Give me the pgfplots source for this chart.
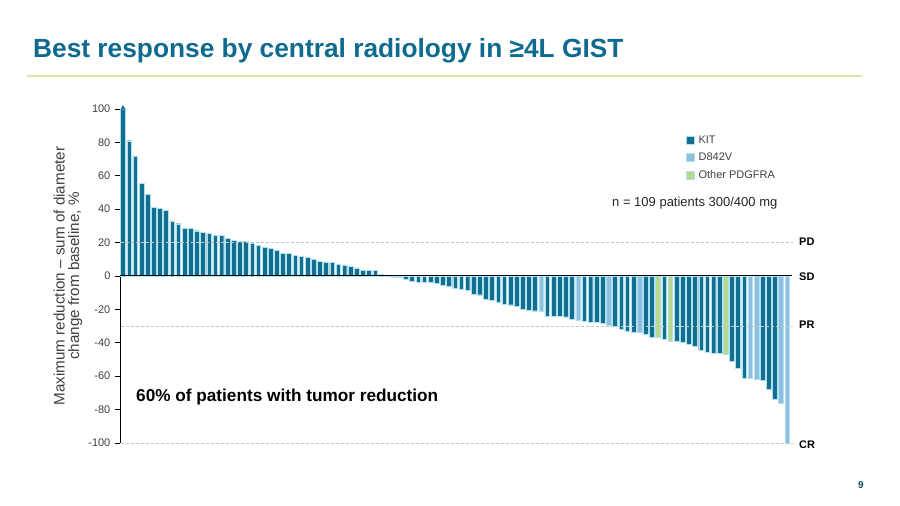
\documentclass[border=0pt]{standalone}
\usepackage{pgfplots}
\pgfplotsset{compat=1.18}
\usepackage{pgfplotstable}
\usepackage{fontspec}
\setmainfont{Liberation Sans}
\definecolor{kit}{RGB}{19,111,143}
\definecolor{dv}{RGB}{143,190,222}
\definecolor{pdg}{RGB}{184,217,138}
\definecolor{edge}{RGB}{175,225,240}
\definecolor{titlec}{RGB}{14,107,143}
\definecolor{rule}{RGB}{216,233,166}
\definecolor{txt}{RGB}{64,64,64}

\pgfplotstableread{
x y
1 100
2 81
3 72
4 55.5
5 48.7
6 40.9
7 40.5
8 39.5
9 33
10 31.3
11 28.7
12 28.5
13 27.1
14 26.2
15 25.4
16 24.4
17 24.4
18 22.4
19 21.2
20 20.8
21 20.6
22 19.8
23 18.4
24 17.4
25 16.4
26 15.2
27 13.4
28 13.4
29 12.4
30 11.8
31 11.0
32 10.0
33 8.8
34 8.4
35 8.2
36 7.0
37 6.6
38 5.8
39 4.8
40 3.4
41 3.4
42 3.4
43 1.0
44 -0.3
45 -0.8
46 -0.8
47 -2
48 -3.4
49 -3.6
50 -3.8
51 -3.8
52 -4.6
53 -5.6
54 -6.2
55 -7.6
56 -8.2
57 -8.6
58 -11
59 -11.2
60 -13.8
61 -14.4
62 -15.6
63 -17
64 -17.2
65 -18
66 -20
67 -20.4
68 -20.8
70 -24
71 -24
72 -24
73 -24.4
74 -25.7
76 -27.1
77 -27.5
78 -27.9
79 -28.3
81 -30.3
82 -31.7
83 -33.1
84 -33.7
86 -34.7
87 -36.5
89 -37.9
91 -39.1
92 -39.5
93 -40.9
94 -41.9
95 -44.3
96 -45.7
97 -46.3
98 -46.3
100 -51.3
101 -55.5
102 -61.1
105 -62.3
106 -67.9
107 -73.9
}\kitdata

\pgfplotstableread{
x y
69 -21
75 -26.7
80 -29.5
85 -33.9
103 -61.3
104 -61.9
108 -76.3
109 -100
}\dvdata

\pgfplotstableread{
x y
88 -36.8
90 -38.9
99 -47.1
}\pdgdata

\begin{document}
\begin{tikzpicture}[x=1pt,y=1pt]
\path (0,0) rectangle (900,506);
% title
\node[anchor=base west, inner sep=0pt, text=titlec, font=\fontsize{26.3}{30}\selectfont\bfseries] at (33,448) {Best response by central radiology in ≥4L GIST};
\draw[rule, line width=1.2pt] (27,430) -- (862,430);
% y label
\node[rotate=90, align=center, text=txt, font=\fontsize{15.2}{14.5}\selectfont] at (68,230) {Maximum reduction – sum of diameter\\change from baseline, \%};

\begin{axis}[
  at={(119.9pt,63pt)}, anchor=south west,
  scale only axis, width=670.35pt, height=334pt,
  xmin=0.5, xmax=109.5, ymin=-100, ymax=100,
  clip=false,
  axis x line=none,
  axis y line*=left,
  y axis line style={black, line width=0.8pt},
  ytick={-100,-80,...,100},
  tick align=outside,
  major tick length=5pt,
  tick style={black, line width=0.6pt},
  yticklabel style={font=\fontsize{11}{12}\selectfont, text=txt, xshift=-1pt},
  /pgf/number format/assume math mode=true,
  legend style={at={(rel axis cs:0.840,0.933)}, anchor=north west, draw=none, fill=none,
     font=\fontsize{11}{12}\selectfont, text=txt, row sep=4.5pt,
     nodes={inner sep=1.5pt, text height=8pt, text depth=2pt}},
  legend cell align=left,
  mylegend/.style={legend image code/.code={\fill[##1] (0pt,-4pt) rectangle (8pt,4pt); \path (10.5pt,0pt);}},
]
\addplot[ybar, bar shift=0pt, bar width=0.76, fill=kit, draw=edge, line width=0.4pt, mylegend] table[x=x,y=y] {\kitdata};
\addlegendentry{KIT}
\addplot[ybar, bar shift=0pt, bar width=0.76, fill=dv, draw=edge, line width=0.4pt, mylegend] table[x=x,y=y] {\dvdata};
\addlegendentry{D842V}
\addplot[ybar, bar shift=0pt, bar width=0.76, fill=pdg, draw=edge, line width=0.4pt, mylegend] table[x=x,y=y] {\pdgdata};
\addlegendentry{Other PDGFRA}
% arrow on first bar
\addplot[forget plot, only marks, mark=triangle*, mark size=2.6pt, color=kit] coordinates {(1,100.5)};
% reference lines
\addplot[forget plot, gray!45, line width=0.8pt, dash pattern=on 3pt off 2pt] coordinates {(0.6,20) (109.9,20)};
\addplot[forget plot, gray!45, line width=0.8pt, dash pattern=on 3pt off 2pt] coordinates {(0.6,-30) (109.9,-30)};
\addplot[forget plot, gray!45, line width=0.8pt, dash pattern=on 3pt off 2pt] coordinates {(0.6,-100) (109.9,-100)};
\addplot[forget plot, black, line width=1pt] coordinates {(0.5,0) (109.8,0)};
\end{axis}

% category labels
\node[anchor=west, inner sep=0pt, font=\fontsize{11}{12}\selectfont\bfseries] at (799,264) {PD};
\node[anchor=west, inner sep=0pt, font=\fontsize{11}{12}\selectfont\bfseries] at (799,229.5) {SD};
\node[anchor=west, inner sep=0pt, font=\fontsize{11}{12}\selectfont\bfseries] at (799,181) {PR};
\node[anchor=west, inner sep=0pt, font=\fontsize{11}{12}\selectfont\bfseries] at (799,61) {CR};
% annotations
\node[anchor=west, inner sep=0pt, text=black!85, font=\fontsize{13}{14}\selectfont] at (612,303) {n = 109 patients 300/400 mg};
\node[anchor=west, inner sep=0pt, text=black, font=\fontsize{17.2}{18}\selectfont\bfseries] at (136,109) {60\% of patients with tumor reduction};
\node[anchor=center, inner sep=0pt, text=titlec!70!black, font=\fontsize{10}{11}\selectfont\bfseries] at (861,21) {9};
\end{tikzpicture}
\end{document}
